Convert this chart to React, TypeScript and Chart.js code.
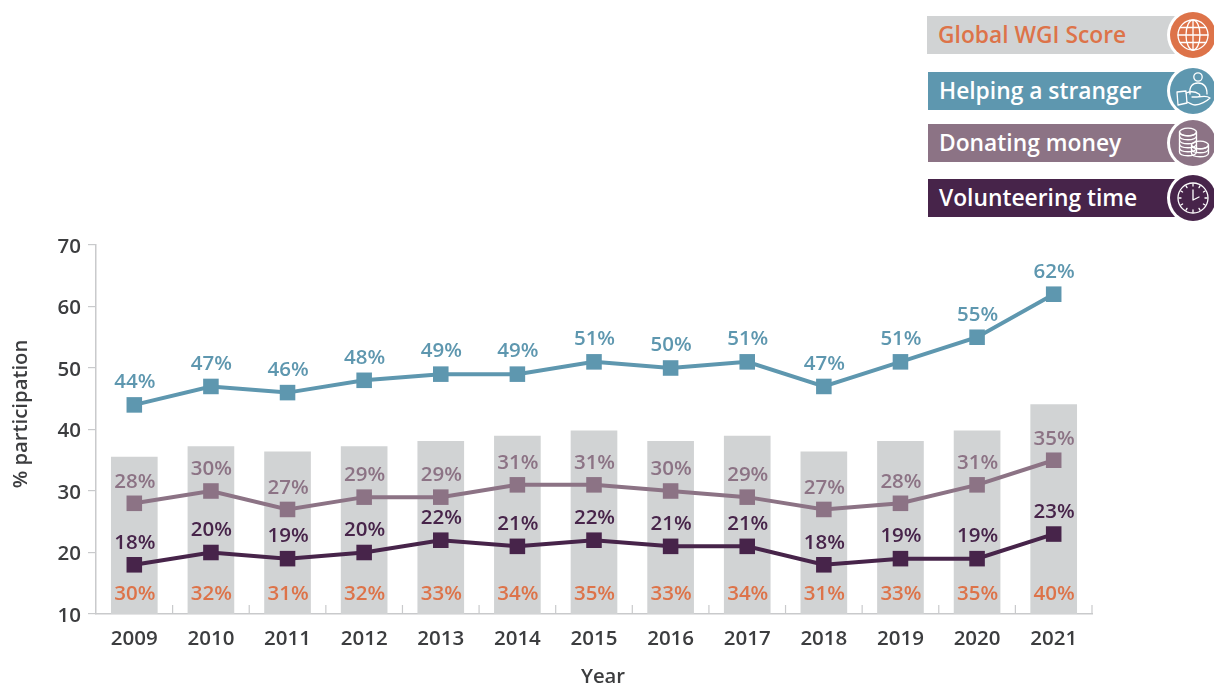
import React, { useEffect, useRef } from "react";
import { Chart, registerables } from "chart.js";

Chart.register(...registerables);

const years = ["2009","2010","2011","2012","2013","2014","2015","2016","2017","2018","2019","2020","2021"];
const helping = [44,47,46,48,49,49,51,50,51,47,51,55,62];
const donating = [28,30,27,29,29,31,31,30,29,27,28,31,35];
const volunteering = [18,20,19,20,22,21,22,21,21,18,19,19,23];
const wgi = [30,32,31,32,33,34,35,33,34,31,33,35,40];

const BLUE = "#5e97af";
const MAUVE = "#8c7385";
const PLUM = "#47244a";
const ORANGE = "#dd7349";
const GREY = "#d1d3d4";
const AXIS = "#c9cacc";
const TEXT = "#3c3d3f";
const FONT = '"Open Sans", sans-serif';

const annotate = {
  id: "annotate",
  afterDatasetsDraw(chart: any) {
    const { ctx, chartArea, scales } = chart;
    ctx.save();
    ctx.textAlign = "center";
    ctx.textBaseline = "middle";
    ctx.font = `600 20.5px ${FONT}`;
    const offsets: Record<number, number> = { 1: 22.5, 2: 21.5, 3: 22 };
    chart.data.datasets.forEach((ds: any, di: number) => {
      chart.getDatasetMeta(di).data.forEach((el: any, i: number) => {
        ctx.fillStyle = ds.labelColor;
        const y = di === 0 ? chartArea.bottom - 20 : el.y - offsets[di];
        ctx.fillText(`${ds.data[i]}%`, el.x + 0.5, y);
      });
    });
    // x-axis ticks between categories, pointing up
    ctx.strokeStyle = AXIS;
    ctx.lineWidth = 1.2;
    const x = scales.x;
    const step = x.getPixelForValue(1) - x.getPixelForValue(0);
    for (let i = 1; i <= years.length; i++) {
      const px = x.getPixelForValue(0) + step * (i - 0.5);
      ctx.beginPath();
      ctx.moveTo(px, chartArea.bottom);
      ctx.lineTo(px, chartArea.bottom - 9);
      ctx.stroke();
    }
    // axis titles
    ctx.fillStyle = TEXT;
    ctx.font = `600 20.3px ${FONT}`;
    ctx.fillText("Year", 603, 677);
    ctx.translate(21, 414);
    ctx.rotate(-Math.PI / 2);
    ctx.fillText("% participation", 0, 0);
    ctx.restore();
  },
};

const stroke = { fill: "none", stroke: "#fff", strokeWidth: 1.3, strokeLinecap: "round" as const, strokeLinejoin: "round" as const };

function Globe() {
  return (
    <g {...stroke}>
      <circle cx="0" cy="0" r="15" />
      <ellipse cx="0" cy="0" rx="7" ry="15" />
      <path d="M0 -15V15M-15 0H15M-13 -7.5H13M-13 7.5H13" />
    </g>
  );
}
function Hand() {
  return (
    <g {...stroke}>
      <circle cx="5" cy="-14" r="4.2" />
      <path d="M-3 3C-4 -5 0 -8 5 -8C10 -8 14 -5 14 3" />
      <path d="M-16 1L-7 0L-6 12L-15 14Z" />
      <path d="M-7 2C-2 0 3 1 6 3C8 5 6 6 3 6H-1M4 6C9 6 13 4 17 7C14 10 7 14 2 14C-1 14 -3 12 -6 11" />
    </g>
  );
}
function Coins() {
  const disc = (cx: number, cy: number, n: number, key: string) => (
    <g key={key}>
      {Array.from({ length: n }).map((_, i) => (
        <path key={i} d={`M${cx - 8.5} ${cy + i * 4}C${cx - 8.5} ${cy + 5 + i * 4} ${cx + 8.5} ${cy + 5 + i * 4} ${cx + 8.5} ${cy + i * 4}`} />
      ))}
      <ellipse cx={cx} cy={cy} rx="8.5" ry="3.8" />
      <path d={`M${cx - 8.5} ${cy}V${cy + (n - 1) * 4}M${cx + 8.5} ${cy}V${cy + (n - 1) * 4}`} />
    </g>
  );
  return (
    <g {...stroke}>
      {disc(-5, -11, 6, "a")}
      {disc(7, 2, 3, "b")}
    </g>
  );
}
function Clock() {
  return (
    <g {...stroke}>
      <circle cx="0" cy="0" r="15" />
      <path d="M0 -8V2L6 -1" />
      {Array.from({ length: 12 }).map((_, i) => {
        const a = (i * Math.PI) / 6;
        return <path key={i} d={`M${12 * Math.cos(a)} ${12 * Math.sin(a)}L${14 * Math.cos(a)} ${14 * Math.sin(a)}`} />;
      })}
    </g>
  );
}

const legendItems = [
  { label: "Global WGI Score", left: 927, top: 16, bg: GREY, fg: ORANGE, circle: ORANGE, icon: <Globe /> },
  { label: "Helping a stranger", left: 928, top: 72, bg: BLUE, fg: "#fff", circle: BLUE, icon: <Hand /> },
  { label: "Donating money", left: 928, top: 124, bg: MAUVE, fg: "#fff", circle: MAUVE, icon: <Coins /> },
  { label: "Volunteering time", left: 928, top: 179, bg: PLUM, fg: "#fff", circle: PLUM, icon: <Clock /> },
];

export default function App() {
  const ref = useRef<HTMLCanvasElement>(null);
  useEffect(() => {
    const line = (label: string, data: number[], color: string) => ({
      type: "line" as const,
      label,
      data,
      yAxisID: "y",
      borderColor: color,
      backgroundColor: color,
      borderWidth: 4,
      pointStyle: "rect",
      pointRadius: 11,
      pointBorderWidth: 0,
      tension: 0,
      order: 1,
      labelColor: color,
    });
    const chart = new Chart(ref.current!, {
      data: {
        labels: years,
        datasets: [
          {
            type: "bar" as const,
            label: "Global WGI Score",
            data: wgi,
            yAxisID: "y2",
            backgroundColor: GREY,
            barThickness: 46,
            order: 10,
            labelColor: ORANGE,
          } as any,
          line("Helping a stranger", helping, BLUE),
          line("Donating money", donating, MAUVE),
          line("Volunteering time", volunteering, PLUM),
        ],
      },
      options: {
        animation: false,
        responsive: false,
        layout: { padding: { left: 0, right: 122, top: 245, bottom: 0 } },
        plugins: { legend: { display: false }, tooltip: { enabled: false } },
        scales: {
          x: {
            offset: true,
            border: { color: AXIS, width: 1.5 },
            grid: { display: false },
            afterFit: (s: any) => { s.height = 73; },
            ticks: { color: TEXT, padding: 5, font: { family: FONT, size: 20.5, weight: 600 }, maxRotation: 0 },
          },
          y: {
            min: 10,
            max: 70,
            position: "left",
            afterFit: (s: any) => { s.width = 96; },
            border: { color: AXIS, width: 1.5 },
            grid: { drawOnChartArea: false, color: AXIS, tickLength: 8, lineWidth: 1.2 },
            ticks: { stepSize: 10, color: TEXT, padding: 7, labelOffset: 2, font: { family: FONT, size: 20.5, weight: 600 } },
          },
          y2: { display: false, min: 0, max: 70.5 },
        },
      } as any,
      plugins: [annotate],
    } as any);
    return () => chart.destroy();
  }, []);

  return (
    <div style={{ position: "fixed", left: 0, top: 0, width: 1214, height: 687, background: "#fff", overflow: "hidden", fontFamily: FONT }}>
      <canvas ref={ref} width={1214} height={687} style={{ position: "absolute", left: 0, top: 0 }} />
      {legendItems.map((it) => (
        <div key={it.label}>
          <div
            style={{
              position: "absolute",
              left: it.left,
              top: it.top,
              width: 1193 - it.left,
              height: 38,
              background: it.bg,
              color: it.fg,
              fontWeight: 600,
              fontSize: 22.8,
              lineHeight: "38px",
              paddingLeft: 11,
              boxSizing: "border-box",
              whiteSpace: "nowrap",
            }}
          >
            {it.label}
          </div>
          <svg style={{ position: "absolute", left: 1163, top: it.top - 11 }} width="60" height="60" viewBox="-30 -30 60 60">
            <circle cx="0" cy="0" r="26" fill="#fff" />
            <circle cx="0" cy="0" r="23" fill={it.circle} />
            {it.icon}
          </svg>
        </div>
      ))}
    </div>
  );
}
